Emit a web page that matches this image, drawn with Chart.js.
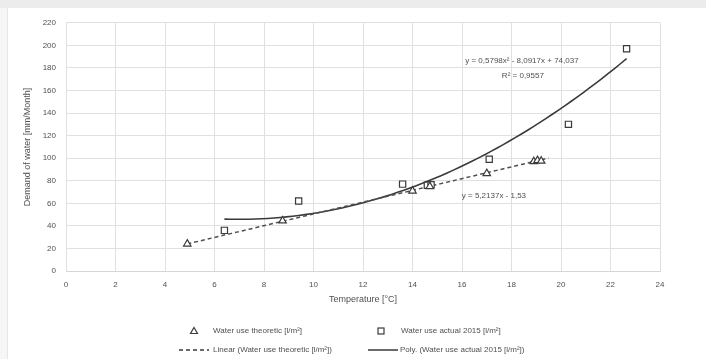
<!DOCTYPE html>
<html>
<head>
<meta charset="utf-8">
<script src="https://cdn.jsdelivr.net/npm/chart.js@4"></script>
<style>
  html, body { margin: 0; padding: 0; background: #f6f6f6; }
  #band { position: absolute; left: 0; top: 0; width: 706px; height: 8px; background: #ececec; }
  #box { position: absolute; left: 7px; top: 8px; width: 699px; height: 351px; background: #fff; border-left: 1px solid #e6e6e6; }
</style>
</head>
<body>
<div id="band"></div>
<div id="box"><canvas id="chart" width="699" height="351"></canvas></div>
<script>
"use strict";
// values
const theoX = [4.9, 8.75, 14.0, 14.7, 17.0, 18.9, 19.05, 19.2];
const theoY = [24, 44.5, 71, 75, 86.5, 97, 98, 97.5];
const actualX = [6.4, 9.4, 13.6, 14.6, 14.75, 17.1, 20.3, 22.65];
const actualY = [36, 62, 77, 76, 76.5, 99, 130, 197];
// trendlines as printed on the chart
const linCoef = [5.2137, -1.53];          // y = a*x + b
const linRange = [4.9, 19.5];
const polyCoef = [0.5798, -8.0917, 74.037]; // y = a*x^2 + b*x + c
const polyRange = [6.4, 22.65];
const xTicks = [0, 24, 2];
const yTicks = [0, 220, 20];

const grey = '#505050';
const dark = '#3a3a3a';
const fontFam = '"Liberation Sans", Arial, sans-serif';

function pairs(xs, ys) {
    return xs.map((x, i) => ({ x: x, y: ys[i] }));
}
function trend(range, fn) {
    let pts = [];
    for (let x = range[0]; x < range[1]; x += 0.25) pts.push({ x: x, y: fn(x) });
    pts.push({ x: range[1], y: fn(range[1]) });
    return pts;
}
const linFn = x => linCoef[0] * x + linCoef[1];
const polyFn = x => polyCoef[0] * x * x + polyCoef[1] * x + polyCoef[2];

const notes = [
    { x: 18.42, y: 186, text: 'y = 0,5798x\u00b2 - 8,0917x + 74,037' },
    { x: 18.46, y: 173, text: 'R\u00b2 = 0,9557' },
    { x: 17.29, y: 66.5, text: 'y = 5,2137x - 1,53' }
];

const extras = {
    id: 'extras',
    afterDatasetsDraw(chart) {
        const ctx = chart.ctx;
        const xs = chart.scales.x, ys = chart.scales.y;
        ctx.save();
        ctx.fillStyle = grey;
        ctx.font = '8px ' + fontFam;
        ctx.textAlign = 'center';
        ctx.textBaseline = 'middle';
        notes.forEach(n => ctx.fillText(n.text, xs.getPixelForValue(n.x), ys.getPixelForValue(n.y)));

        // legend, two rows like the original
        ctx.textAlign = 'left';
        ctx.strokeStyle = dark;
        ctx.lineWidth = 1.2;
        // triangle
        let cx = 186, cy = 323;
        ctx.beginPath();
        ctx.moveTo(cx, cy - 3.5); ctx.lineTo(cx + 3.5, cy + 2.5); ctx.lineTo(cx - 3.5, cy + 2.5); ctx.closePath();
        ctx.stroke();
        ctx.fillText('Water use theoretic [l/m\u00b2]', 205, cy);
        // square
        cx = 373;
        ctx.strokeRect(cx - 3, cy - 3, 6, 6);
        ctx.fillText('Water use actual 2015 [l/m\u00b2]', 393, cy);
        // dashed line
        cy = 342;
        ctx.lineWidth = 1.5;
        ctx.setLineDash([4, 3]);
        ctx.beginPath(); ctx.moveTo(171, cy); ctx.lineTo(201, cy); ctx.stroke();
        ctx.setLineDash([]);
        ctx.fillText('Linear (Water use theoretic [l/m\u00b2])', 205, cy);
        ctx.beginPath(); ctx.moveTo(360, cy); ctx.lineTo(390, cy); ctx.stroke();
        ctx.fillText('Poly. (Water use actual 2015 [l/m\u00b2])', 392, cy);
        ctx.restore();
    }
};

const ctx = document.getElementById('chart').getContext('2d');
new Chart(ctx, {
    type: 'scatter',
    data: {
        datasets: [{
            label: 'Water use theoretic [l/m\u00b2]',
            data: pairs(theoX, theoY),
            pointStyle: 'triangle',
            pointRadius: 4.3,
            borderColor: dark,
            backgroundColor: '#fff',
            borderWidth: 1.2
        }, {
            label: 'Water use actual 2015 [l/m\u00b2]',
            data: pairs(actualX, actualY),
            pointStyle: 'rect',
            pointRadius: 4.4,
            borderColor: dark,
            backgroundColor: '#fff',
            borderWidth: 1.2
        }, {
            label: 'Linear (Water use theoretic [l/m\u00b2])',
            data: trend(linRange, linFn),
            showLine: true,
            pointRadius: 0,
            borderColor: grey,
            borderWidth: 1.5,
            borderDash: [4, 3]
        }, {
            label: 'Poly. (Water use actual 2015 [l/m\u00b2])',
            data: trend(polyRange, polyFn),
            showLine: true,
            pointRadius: 0,
            borderColor: dark,
            borderWidth: 1.6,
            tension: 0
        }]
    },
    options: {
        responsive: false,
        animation: false,
        layout: { padding: { left: 0, top: 10, right: 47, bottom: 54 } },
        plugins: { legend: { display: false }, tooltip: { enabled: false } },
        scales: {
            x: {
                type: 'linear',
                min: xTicks[0], max: xTicks[1],
                ticks: { stepSize: xTicks[2], color: grey, font: { size: 8, family: fontFam }, padding: 9 },
                grid: { color: '#e0e0e0', drawTicks: false },
                border: { color: '#d6d6d6' },
                title: { display: true, text: 'Temperature [\u00b0C]', color: grey, font: { size: 9, family: fontFam }, padding: 0 },
                afterFit: s => { s.height = 34; }
            },
            y: {
                min: yTicks[0], max: yTicks[1],
                ticks: { stepSize: yTicks[2], color: grey, font: { size: 8, family: fontFam }, padding: 10 },
                grid: { color: '#e0e0e0', drawTicks: false },
                border: { color: '#e0e0e0' },
                title: { display: true, text: 'Demand of water [mm/Month]', color: grey, font: { size: 9, family: fontFam }, padding: { top: 14, bottom: 0 } },
                afterFit: s => { s.width = 58; }
            }
        }
    },
    plugins: [extras]
});
</script>
</body>
</html>
